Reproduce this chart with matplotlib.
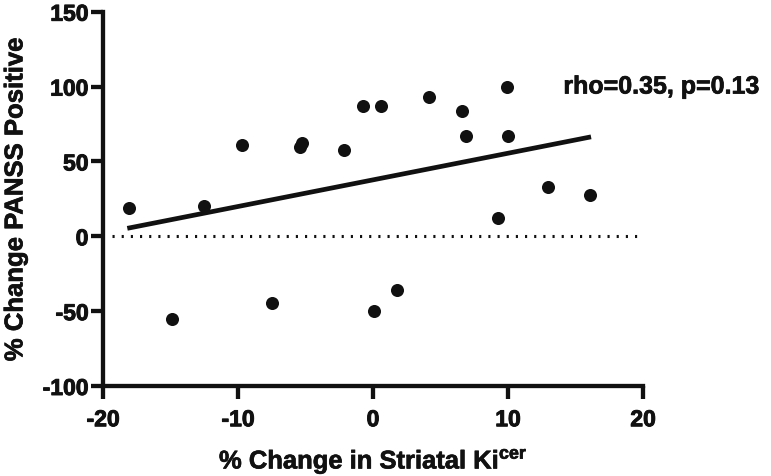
import matplotlib
matplotlib.use("Agg")
import matplotlib.pyplot as plt
import matplotlib.patheffects as pe
from matplotlib.font_manager import FontProperties
import numpy as np

# Data
x_vals = [-18.05, -12.54, -9.7, -5.39, -5.24, -2.17, -0.72, 0.59, 4.12, 6.59,
          9.9, 6.89, 10.02, 12.94, 16.07, 9.26, -14.9, -7.5, 0.05, 1.78]
y_vals = [18.7, 20.0, 61.0, 59.7, 62.2, 57.5, 87.0, 87.0, 93.3, 83.7,
          99.8, 66.9, 66.9, 32.7, 27.5, 12.4, -55.3, -44.5, -50.2, -36.2]
fit_x = [-18.2, 16.15]
fit_y = [5.3, 66.4]
x_ticks = [-20, -10, 0, 10, 20]
y_ticks = [-100, -50, 0, 50, 100, 150]
annotation = "rho=0.35, p=0.13"

plt.rcParams['font.family'] = ['Liberation Sans', 'DejaVu Sans']
plt.rcParams['font.weight'] = 'bold'
plt.rcParams['axes.unicode_minus'] = False
plt.rcParams['mathtext.fontset'] = 'custom'
plt.rcParams['mathtext.bf'] = 'Liberation Sans:bold'
plt.rcParams['mathtext.rm'] = 'Liberation Sans:bold'

fig = plt.figure(figsize=(7.71, 4.77), dpi=100)
ax = fig.add_axes([0.1336, 0.1887, 0.7004, 0.7847])

ink = '#111111'
ax.plot([-19.3, 19.6], [0, 0], color=ink, lw=2.2, linestyle=(0, (0.7, 2.3)), zorder=1)
ax.plot(fit_x, fit_y, color=ink, lw=3.4, solid_capstyle='butt', zorder=2)
ax.plot(x_vals, y_vals, 'o', color=ink, markersize=9.4, markeredgewidth=0, zorder=3)

ax.set_xlim(-20, 20)
ax.set_ylim(-100, 150)
ax.set_xticks(x_ticks, labels=[str(t) for t in x_ticks])
ax.set_yticks(y_ticks, labels=[str(t) for t in y_ticks])

tick_fp = FontProperties(family='Liberation Sans', weight='bold', size=16.5)
stroke = [pe.withStroke(linewidth=0.7, foreground=ink)]
for lab in ax.get_xticklabels() + ax.get_yticklabels():
    lab.set_fontproperties(tick_fp)
    lab.set_color(ink)
    lab.set_path_effects(stroke)

for s in ['top', 'right']:
    ax.spines[s].set_visible(False)
for s in ['left', 'bottom']:
    ax.spines[s].set_linewidth(3.1)
    ax.spines[s].set_color(ink)
    ax.spines[s].set_capstyle('projecting')

ax.tick_params(axis='both', direction='out', length=9, width=3.1, color=ink)
ax.tick_params(axis='x', pad=7)
ax.tick_params(axis='y', pad=1.5)

ax.set_xlabel(r"% Change in Striatal Ki$^{\mathbf{cer}}$", fontsize=18.4,
              fontweight='bold', color=ink, path_effects=[pe.withStroke(linewidth=0.5, foreground=ink)])
ax.xaxis.set_label_coords(0.5, -0.16)
ax.set_ylabel("% Change PANSS Positive", fontsize=18.5, fontweight='bold', color=ink,
              path_effects=[pe.withStroke(linewidth=0.5, foreground=ink)])
ax.yaxis.set_label_coords(-0.14, 0.5)

ax.text(14.1, 100, annotation, fontsize=18, fontweight='bold', color=ink,
        ha='left', va='center', clip_on=False,
        path_effects=[pe.withStroke(linewidth=0.5, foreground=ink)])

fig.savefig("out.png", dpi=100)
